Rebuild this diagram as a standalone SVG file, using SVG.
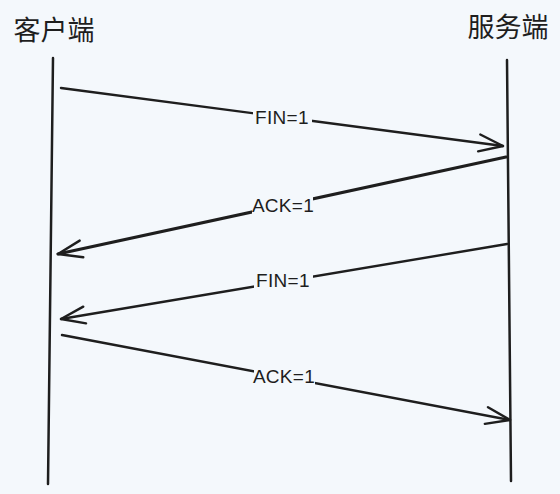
<svg xmlns="http://www.w3.org/2000/svg" width="560" height="494" viewBox="0 0 560 494">
  <style>
    .life { stroke: #1e1e1e; stroke-width: 2.5; fill: none; stroke-linecap: round; }
    .msg { stroke: #1e1e1e; stroke-width: 2.4; fill: none; stroke-linecap: round; }
    .msg.bold { stroke-width: 3.2; }
    .title { font-family: "Noto Sans CJK SC", "Noto Sans", sans-serif; font-size: 27px; fill: #1e1e1e; text-anchor: middle; }
    .lbl { font-family: "Liberation Sans", "DejaVu Sans", sans-serif; font-size: 19px; fill: #1e1e1e; text-anchor: middle; dominant-baseline: central; letter-spacing: 0.3px; }
    .lblbg { fill: #f4f8fc; }
  </style>
  <defs>
    <marker id="arrow" markerUnits="userSpaceOnUse" markerWidth="40" markerHeight="40" viewBox="-30 -15 40 30" refX="0" refY="0" orient="auto">
      <path d="M-24,-8.5 L0,0 L-24,8.5" fill="none" stroke="#1e1e1e" stroke-width="2.4" stroke-linecap="round" stroke-linejoin="round"/>
    </marker>
  </defs>
  <rect x="0" y="0" width="560" height="494" fill="#f4f8fc"/>

  <g id="client">
    <text class="title" x="54" y="40">客户端</text>
    <line class="life" x1="53" y1="58" x2="48" y2="484"/>
  </g>
  <g id="server">
    <text class="title" x="508" y="37">服务端</text>
    <line class="life" x1="507" y1="60" x2="511" y2="481"/>
  </g>

  <g id="connectors">
    <g id="msg1">
      <line class="msg" x1="61" y1="88" x2="503" y2="146" marker-end="url(#arrow)"/>
      <rect class="lblbg" x="253" y="108" width="59" height="18"/>
      <text class="lbl" x="282" y="117">FIN=1</text>
    </g>
    <g id="msg2">
      <line class="msg bold" x1="506" y1="157" x2="58" y2="254" marker-end="url(#arrow)"/>
      <rect class="lblbg" x="252" y="196" width="61" height="18"/>
      <text class="lbl" x="283" y="205">ACK=1</text>
    </g>
    <g id="msg3">
      <line class="msg" x1="507" y1="244" x2="61" y2="319" marker-end="url(#arrow)"/>
      <rect class="lblbg" x="254" y="271" width="59" height="18"/>
      <text class="lbl" x="283" y="280">FIN=1</text>
    </g>
    <g id="msg4">
      <line class="msg" x1="62" y1="335" x2="510" y2="420" marker-end="url(#arrow)"/>
      <rect class="lblbg" x="254" y="367" width="61" height="18"/>
      <text class="lbl" x="284" y="376">ACK=1</text>
    </g>
  </g>
</svg>
